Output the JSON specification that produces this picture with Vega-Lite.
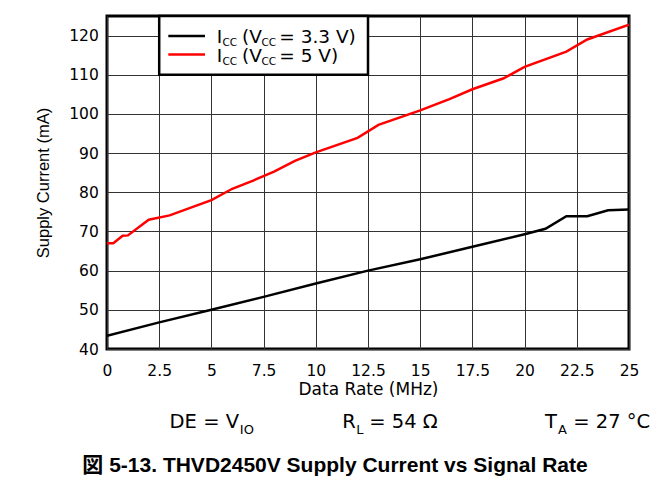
{
  "$schema": "https://vega.github.io/schema/vega-lite/v6.json",
  "width": 522,
  "height": 333,
  "autosize": {"type": "none"},
  "padding": {"left": 107, "top": 16, "right": 29, "bottom": 142},
  "background": "white",
  "config": {
    "font": "DejaVu Sans",
    "view": {"stroke": "black", "strokeWidth": 3},
    "axis": {"domain": false, "ticks": false, "tickSize": 0, "gridColor": "#333333", "gridWidth": 1, "gridOpacity": 1, "labelColor": "black", "titleColor": "black", "labelFont": "DejaVu Sans", "labelFontSize": 15.5, "titleFontWeight": "normal"},
    "text": {"color": "black", "font": "DejaVu Sans"}
  },
  "title": {
    "text": "図 5-13. THVD2450V Supply Current vs Signal Rate",
    "orient": "bottom",
    "anchor": "middle",
    "font": "Liberation Sans, Noto Sans CJK JP",
    "fontSize": 21,
    "fontWeight": "bold",
    "color": "black",
    "dx": -33,
    "offset": 18
  },
  "data": {"values": [{}]},
  "datasets": {
    "curves": [
      {"series": "3.3 V", "rate": 0, "current": 43.4},
      {"series": "3.3 V", "rate": 2.5, "current": 46.8},
      {"series": "3.3 V", "rate": 5, "current": 50.0},
      {"series": "3.3 V", "rate": 7.5, "current": 53.3},
      {"series": "3.3 V", "rate": 10, "current": 56.7},
      {"series": "3.3 V", "rate": 12.5, "current": 60.0},
      {"series": "3.3 V", "rate": 15, "current": 62.9},
      {"series": "3.3 V", "rate": 17.5, "current": 66.1},
      {"series": "3.3 V", "rate": 20, "current": 69.3},
      {"series": "3.3 V", "rate": 21, "current": 70.7},
      {"series": "3.3 V", "rate": 22, "current": 73.9},
      {"series": "3.3 V", "rate": 23, "current": 73.9},
      {"series": "3.3 V", "rate": 24, "current": 75.4},
      {"series": "3.3 V", "rate": 25, "current": 75.6},
      {"series": "5 V", "rate": 0, "current": 67.0},
      {"series": "5 V", "rate": 0.3, "current": 67.0},
      {"series": "5 V", "rate": 0.75, "current": 68.9},
      {"series": "5 V", "rate": 1.0, "current": 69.0},
      {"series": "5 V", "rate": 2.0, "current": 73.0},
      {"series": "5 V", "rate": 3.0, "current": 74.1},
      {"series": "5 V", "rate": 5, "current": 78.0},
      {"series": "5 V", "rate": 6, "current": 80.9},
      {"series": "5 V", "rate": 7, "current": 83.0},
      {"series": "5 V", "rate": 8, "current": 85.3},
      {"series": "5 V", "rate": 9, "current": 88.0},
      {"series": "5 V", "rate": 10, "current": 90.2},
      {"series": "5 V", "rate": 12, "current": 93.9},
      {"series": "5 V", "rate": 13, "current": 97.2},
      {"series": "5 V", "rate": 15, "current": 100.9},
      {"series": "5 V", "rate": 16.4, "current": 103.8},
      {"series": "5 V", "rate": 17.5, "current": 106.3},
      {"series": "5 V", "rate": 19, "current": 109.1},
      {"series": "5 V", "rate": 20, "current": 112.0},
      {"series": "5 V", "rate": 22, "current": 115.9},
      {"series": "5 V", "rate": 23, "current": 119.0},
      {"series": "5 V", "rate": 25, "current": 122.8}
    ]
  },
  "layer": [
    {
      "data": {"name": "curves"},
      "mark": {"type": "line", "strokeWidth": 2.5, "clip": true},
      "encoding": {
        "x": {
          "field": "rate", "type": "quantitative",
          "scale": {"domain": [0, 25], "nice": false, "zero": false},
          "axis": {"values": [0, 2.5, 5, 7.5, 10, 12.5, 15, 17.5, 20, 22.5, 25], "labelExpr": "'' + datum.value", "labelPadding": 14, "labelFlush": false, "labelOverlap": false, "title": "Data Rate (MHz)", "titleFont": "DejaVu Sans", "titleFontSize": 17, "titlePadding": 3}
        },
        "y": {
          "field": "current", "type": "quantitative",
          "scale": {"domain": [40, 125], "nice": false, "zero": false},
          "axis": {"values": [40, 45, 50, 55, 60, 65, 70, 75, 80, 85, 90, 95, 100, 105, 110, 115, 120, 125], "labelExpr": "datum.value % 10 == 0 && datum.value <= 120 ? datum.label : ''", "format": "d", "labelPadding": 8.7, "labelFlush": false, "labelOverlap": false, "title": "Supply Current (mA)", "titleFont": "Liberation Sans", "titleFontSize": 16.5, "titlePadding": 17}
        },
        "color": {"field": "series", "type": "nominal", "scale": {"domain": ["3.3 V", "5 V"], "range": ["black", "#ff0000"]}, "legend": null}
      }
    },
    {
      "mark": {"type": "rect", "fill": "white", "stroke": "black", "strokeWidth": 2.5},
      "encoding": {"x": {"datum": 2.5, "type": "quantitative"}, "x2": {"datum": 12.5}, "y": {"datum": 125, "type": "quantitative"}, "y2": {"datum": 110}}
    },
    {
      "mark": {"type": "rule", "color": "black", "strokeWidth": 2.5},
      "encoding": {"x": {"datum": 2.936, "type": "quantitative"}, "x2": {"datum": 4.693}, "y": {"datum": 119.9, "type": "quantitative"}}
    },
    {
      "mark": {"type": "rule", "color": "#ff0000", "strokeWidth": 2.5},
      "encoding": {"x": {"datum": 2.936, "type": "quantitative"}, "x2": {"datum": 4.693}, "y": {"datum": 115.2, "type": "quantitative"}}
    },
    {"mark": {"type": "text", "text": "I", "align": "left", "baseline": "alphabetic", "fontSize": 18.5}, "encoding": {"x": {"datum": 5.254, "type": "quantitative"}, "y": {"datum": 118.03, "type": "quantitative"}}},
    {"mark": {"type": "text", "text": "CC", "align": "left", "baseline": "alphabetic", "fontSize": 10.5}, "encoding": {"x": {"datum": 5.53, "type": "quantitative"}, "y": {"datum": 117.3, "type": "quantitative"}}},
    {"mark": {"type": "text", "text": "(V", "align": "left", "baseline": "alphabetic", "fontSize": 18.5}, "encoding": {"x": {"datum": 6.47, "type": "quantitative"}, "y": {"datum": 118.03, "type": "quantitative"}}},
    {"mark": {"type": "text", "text": "CC", "align": "left", "baseline": "alphabetic", "fontSize": 10.5}, "encoding": {"x": {"datum": 7.4, "type": "quantitative"}, "y": {"datum": 117.3, "type": "quantitative"}}},
    {"mark": {"type": "text", "text": "= 3.3 V)", "align": "left", "baseline": "alphabetic", "fontSize": 18.5}, "encoding": {"x": {"datum": 8.25, "type": "quantitative"}, "y": {"datum": 118.03, "type": "quantitative"}}},
    {"mark": {"type": "text", "text": "I", "align": "left", "baseline": "alphabetic", "fontSize": 18.5}, "encoding": {"x": {"datum": 5.254, "type": "quantitative"}, "y": {"datum": 113.3, "type": "quantitative"}}},
    {"mark": {"type": "text", "text": "CC", "align": "left", "baseline": "alphabetic", "fontSize": 10.5}, "encoding": {"x": {"datum": 5.53, "type": "quantitative"}, "y": {"datum": 112.57, "type": "quantitative"}}},
    {"mark": {"type": "text", "text": "(V", "align": "left", "baseline": "alphabetic", "fontSize": 18.5}, "encoding": {"x": {"datum": 6.47, "type": "quantitative"}, "y": {"datum": 113.3, "type": "quantitative"}}},
    {"mark": {"type": "text", "text": "CC", "align": "left", "baseline": "alphabetic", "fontSize": 10.5}, "encoding": {"x": {"datum": 7.4, "type": "quantitative"}, "y": {"datum": 112.57, "type": "quantitative"}}},
    {"mark": {"type": "text", "text": "= 5 V)", "align": "left", "baseline": "alphabetic", "fontSize": 18.5}, "encoding": {"x": {"datum": 8.25, "type": "quantitative"}, "y": {"datum": 113.3, "type": "quantitative"}}},
    {"mark": {"type": "text", "text": "DE = V", "align": "left", "baseline": "alphabetic", "fontSize": 19.5}, "encoding": {"x": {"datum": 2.998, "type": "quantitative"}, "y": {"datum": 19.76, "type": "quantitative"}}},
    {"mark": {"type": "text", "text": "IO", "align": "left", "baseline": "alphabetic", "fontSize": 13}, "encoding": {"x": {"datum": 6.36, "type": "quantitative"}, "y": {"datum": 18.23, "type": "quantitative"}}},
    {"mark": {"type": "text", "text": "R", "align": "left", "baseline": "alphabetic", "fontSize": 19.5}, "encoding": {"x": {"datum": 11.264, "type": "quantitative"}, "y": {"datum": 19.76, "type": "quantitative"}}},
    {"mark": {"type": "text", "text": "L", "align": "left", "baseline": "alphabetic", "fontSize": 13}, "encoding": {"x": {"datum": 11.94, "type": "quantitative"}, "y": {"datum": 18.23, "type": "quantitative"}}},
    {"mark": {"type": "text", "text": "= 54 Ω", "align": "left", "baseline": "alphabetic", "fontSize": 19.5}, "encoding": {"x": {"datum": 12.56, "type": "quantitative"}, "y": {"datum": 19.76, "type": "quantitative"}}},
    {"mark": {"type": "text", "text": "T", "align": "left", "baseline": "alphabetic", "fontSize": 19.5}, "encoding": {"x": {"datum": 20.972, "type": "quantitative"}, "y": {"datum": 19.76, "type": "quantitative"}}},
    {"mark": {"type": "text", "text": "A", "align": "left", "baseline": "alphabetic", "fontSize": 13}, "encoding": {"x": {"datum": 21.6, "type": "quantitative"}, "y": {"datum": 18.23, "type": "quantitative"}}},
    {"mark": {"type": "text", "text": "= 27 °C", "align": "left", "baseline": "alphabetic", "fontSize": 19.5}, "encoding": {"x": {"datum": 22.33, "type": "quantitative"}, "y": {"datum": 19.76, "type": "quantitative"}}}
  ]
}
